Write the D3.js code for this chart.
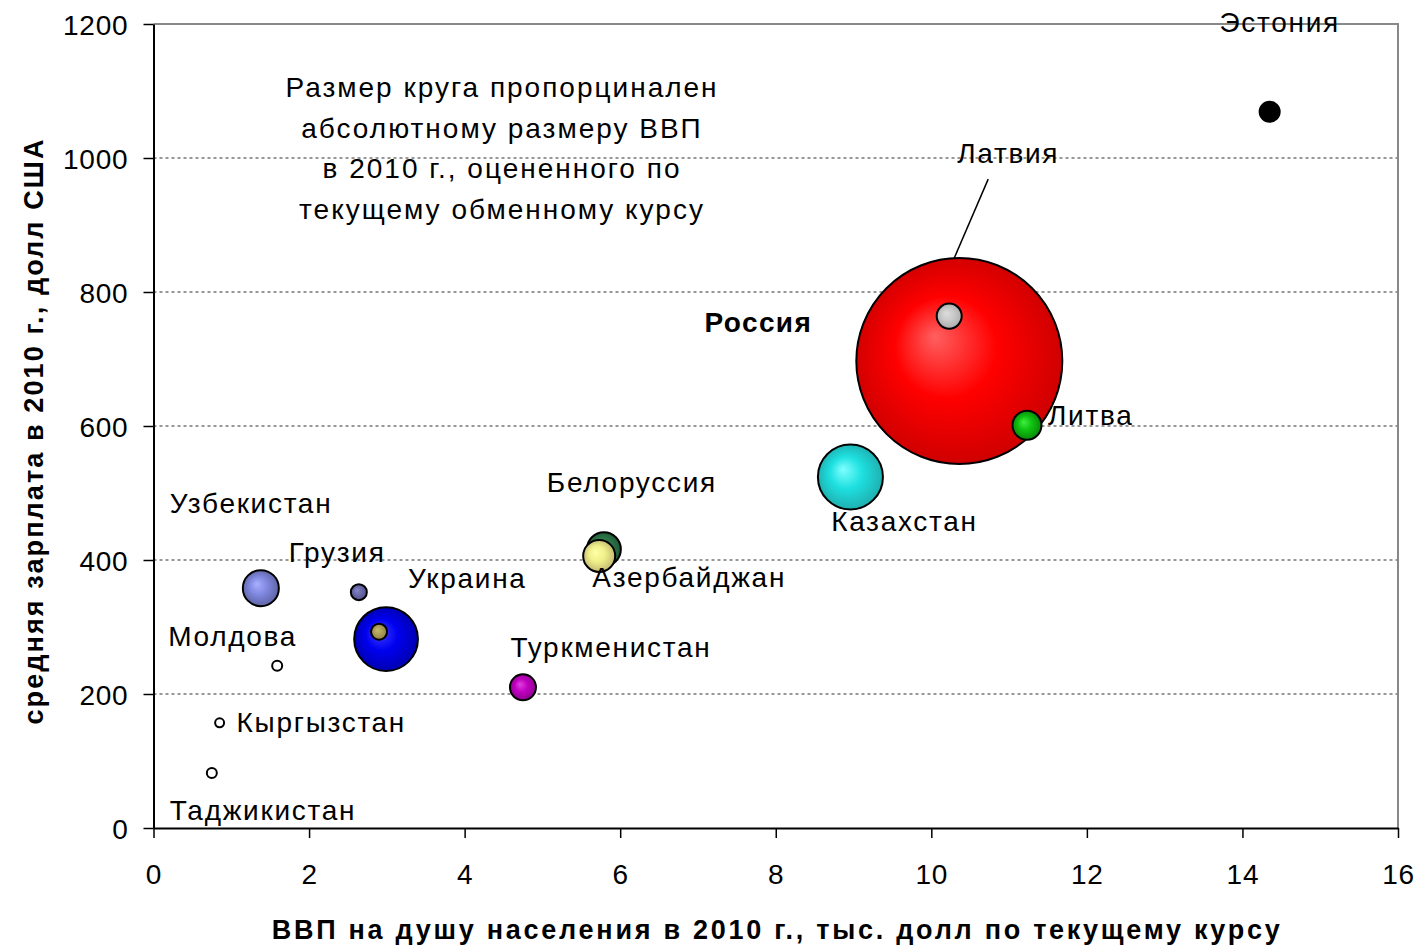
<!DOCTYPE html>
<html>
<head>
<meta charset="utf-8">
<script src="https://cdn.jsdelivr.net/npm/d3@7"></script>
<style>
  body { margin: 0; background: #fff; }
  text { font-family: "Liberation Sans", Arial, sans-serif; fill: #000; }
</style>
</head>
<body>
<div id="chart"></div>
<script>
// Wages vs GDP per capita, CIS + Baltics, 2010 (bubble size = GDP)
const W = 1418, H = 945;
const margin = { top: 24, right: 20, bottom: 117, left: 153.5 };

// ---------- data ----------
const countries = ["Россия", "Казахстан", "Украина", "Узбекистан", "Белоруссия", "Азербайджан",
  "Литва", "Туркменистан", "Латвия", "Эстония", "Грузия", "Армения", "Молдова", "Таджикистан", "Кыргызстан"];
const gdpPerCap = [10.36, 8.96, 2.99, 1.38, 5.79, 5.73, 11.23, 4.75, 10.23, 14.35, 2.64, 2.90, 1.59, 0.75, 0.85];
const wage = [697, 524, 282, 358, 416, 406, 601, 210, 764, 1069, 352, 293, 242, 82, 157];
const gdpTotal = [1525, 152, 146, 46.6, 41.5, 36.8, 30.2, 24.3, 22.5, 14.4, 9.2, 9.2, 3.6, 3.6, 2.9];
const xTicks = [0, 2, 4, 6, 8, 10, 12, 14, 16];
const yTicks = [0, 200, 400, 600, 800, 1000, 1200];
const note = ["Размер круга пропорцинален", "абсолютному размеру ВВП",
  "в 2010 г., оцененного по", "текущему обменному курсу"];
const xTitle = "ВВП на душу населения в 2010 г., тыс. долл по текущему курсу";
const yTitle = "средняя зарплата в 2010 г., долл США";

// bubble colours [highlight, base, edge]
const colors = {
  "Россия": ["#ff6060", "#ff0000", "#c80000"],
  "Казахстан": ["#80ffff", "#1ee0e0", "#20a8a8"],
  "Украина": ["#4040ff", "#0000f0", "#0000a8"],
  "Узбекистан": ["#a8b0ff", "#8088e0", "#5a5f9c"],
  "Белоруссия": ["#4a9a66", "#2f7a4b", "#1e5434"],
  "Азербайджан": ["#ffffa8", "#f0f08a", "#bdb070"],
  "Литва": ["#40f040", "#10c010", "#088008"],
  "Туркменистан": ["#e040e0", "#c000c0", "#880088"],
  "Латвия": ["#dcdcdc", "#cacaca", "#a8a8a8"],
  "Эстония": ["#000", "#000", "#000"],
  "Грузия": ["#8888c8", "#6a6aaa", "#505088"],
  "Армения": ["#c8b870", "#ad9f58", "#8a7d40"],
  "Молдова": ["#fff", "#fff", "#fff"],
  "Таджикистан": ["#fff", "#fff", "#fff"],
  "Кыргызстан": ["#fff", "#fff", "#fff"]
};

// label placement relative to bubble centre: [dx, dy, anchor, bold]
const labelPos = {
  "Эстония": [10, -80, "middle"],
  "Латвия": [59, -153, "middle"],
  "Россия": [-201, -29, "middle", true],
  "Литва": [21, 0, "start"],
  "Казахстан": [54, 54, "middle"],
  "Белоруссия": [28, -57, "middle"],
  "Азербайджан": [90, 31, "middle"],
  "Туркменистан": [88, -30, "middle"],
  "Украина": [22, -51, "start"],
  "Грузия": [-70, -30, "start"],
  "Узбекистан": [-91, -75, "start"],
  "Молдова": [-109, -20, "start"],
  "Кыргызстан": [17, 9, "start"],
  "Таджикистан": [-42, 47, "start"]
};

const rows = countries.map((c, i) => ({ name: c, x: gdpPerCap[i], y: wage[i], gdp: gdpTotal[i] }));

const svg = d3.select("#chart").append("svg").attr("width", W).attr("height", H);
const x = d3.scaleLinear().domain([0, 16]).range([margin.left, W - margin.right]);
const y = d3.scaleLinear().domain([0, 1200]).range([H - margin.bottom, margin.top]);
const r = d3.scaleSqrt().domain([0, 1525]).range([0, 103]);

// gridlines
svg.append("g").selectAll("line").data(yTicks.filter(d => d > 0 && d < 1200)).join("line")
  .attr("x1", x(0)).attr("x2", x(16)).attr("y1", d => y(d)).attr("y2", d => y(d))
  .attr("stroke", "#333").attr("stroke-width", 1.2).attr("stroke-dasharray", "3,3");

// top & right frame
svg.append("path")
  .attr("d", `M${x(0)},${y(1200)}H${x(16)}V${y(0)}`)
  .attr("fill", "none").attr("stroke", "#888").attr("stroke-width", 2);

// axes
const xAxis = svg.append("g").attr("transform", `translate(0,${y(0)})`)
  .call(d3.axisBottom(x).tickValues(xTicks).tickSize(10).tickSizeOuter(0).tickPadding(26)
    .tickFormat(d3.format("d")));
const yAxis = svg.append("g").attr("transform", `translate(${x(0)},0)`)
  .call(d3.axisLeft(y).tickValues(yTicks).tickSize(10).tickSizeOuter(0).tickPadding(15)
    .tickFormat(d3.format("d")));
[xAxis, yAxis].forEach(a => {
  a.select(".domain").attr("stroke", "#000").attr("stroke-width", 2);
  a.selectAll(".tick line").attr("stroke", "#000").attr("stroke-width", 1.5);
  a.selectAll(".tick text").attr("font-size", 28).attr("font-family", "Liberation Sans, Arial, sans-serif")
    .attr("letter-spacing", 0.8).attr("fill", "#000");
});
yAxis.selectAll(".tick text").attr("dy", "0.36em");

// gradients
const defs = svg.append("defs");
rows.forEach((d, i) => {
  const c = colors[d.name];
  const g = defs.append("radialGradient").attr("id", "g" + i)
    .attr("cx", "50%").attr("cy", "50%").attr("r", "55%")
    .attr("fx", "38%").attr("fy", "38%");
  g.append("stop").attr("offset", "0%").attr("stop-color", c[0]);
  g.append("stop").attr("offset", "45%").attr("stop-color", c[1]);
  g.append("stop").attr("offset", "100%").attr("stop-color", c[2]);
});

// Latvia leader line
svg.append("line")
  .attr("x1", x(10.23) + 39).attr("y1", y(764) - 137)
  .attr("x2", x(10.23) - 1).attr("y2", y(764) - 44)
  .attr("stroke", "#000").attr("stroke-width", 1.5);

// bubbles, biggest first
svg.append("g").selectAll("circle")
  .data(rows.map((d, i) => ({ ...d, i })).sort((a, b) => b.gdp - a.gdp))
  .join("circle")
  .attr("cx", d => x(d.x)).attr("cy", d => y(d.y)).attr("r", d => r(d.gdp))
  .attr("fill", d => `url(#g${d.i})`)
  .attr("stroke", "#000").attr("stroke-width", 2);

// labels
svg.append("g").selectAll("text")
  .data(rows.filter(d => labelPos[d.name]))
  .join("text")
  .attr("x", d => x(d.x) + labelPos[d.name][0])
  .attr("y", d => y(d.y) + labelPos[d.name][1])
  .attr("text-anchor", d => labelPos[d.name][2])
  .attr("font-weight", d => labelPos[d.name][3] ? "bold" : null)
  .attr("font-size", 28).attr("letter-spacing", d => labelPos[d.name][3] ? 1.4 : 1.7)
  .text(d => d.name);

// size note
svg.append("g").selectAll("text").data(note).join("text")
  .attr("x", 502).attr("y", (d, i) => 97 + i * 40.5)
  .attr("text-anchor", "middle").attr("font-size", 28).attr("letter-spacing", 2)
  .text(d => d);

// axis titles
svg.append("text")
  .attr("x", (x(0) + x(16)) / 2).attr("y", 939)
  .attr("text-anchor", "middle")
  .attr("font-family", "DejaVu Sans, Verdana, sans-serif").attr("font-weight", "bold")
  .attr("font-size", 27).attr("textLength", 1008).attr("lengthAdjust", "spacing")
  .text(xTitle);
svg.append("text")
  .attr("transform", `translate(43,${(y(0) + y(1200)) / 2 + 6}) rotate(-90)`)
  .attr("text-anchor", "middle")
  .attr("font-family", "DejaVu Sans, Verdana, sans-serif").attr("font-weight", "bold")
  .attr("font-size", 27).attr("textLength", 585).attr("lengthAdjust", "spacing")
  .text(yTitle);
</script>
</body>
</html>
